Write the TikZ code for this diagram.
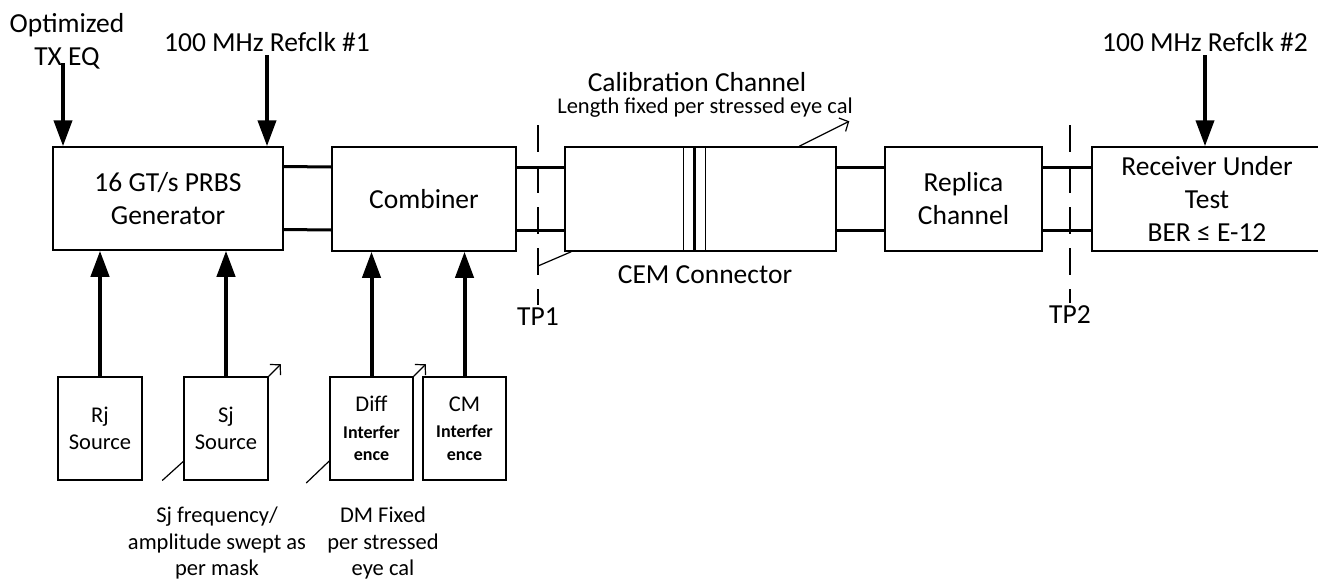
\documentclass[tikz,border=0pt]{standalone}
\usepackage{fontspec}
\setmainfont{Carlito}
\usetikzlibrary{arrows.meta,positioning}

\newcommand{\intf}{\bfseries\fontsize{18}{22}\selectfont}

\tikzset{
    blk/.style={draw, line width=1.5pt, inner sep=0pt, align=center},
    sig/.style={-{Triangle[length=26pt,width=18pt]}, line width=4pt},
    bus/.style={line width=3pt},
    tpline/.style={line width=1.5pt, dash pattern=on 27pt off 14pt},
    tune/.style={-{Straight Barb[length=7pt,width=15pt]}, line width=1.2pt},
    lead/.style={line width=1.2pt},
    big/.style={font=\fontsize{27.5}{33}\selectfont, align=center},
    small/.style={font=\fontsize{22.5}{26.5}\selectfont, align=center}
}

\begin{document}
\begin{tikzpicture}[x=1pt, y=-1pt]

        \useasboundingbox (0,0) rectangle (1318,581);

        % Main chain
        \node[blk, big, minimum width=230pt, minimum height=103pt] (gen) at (168,198.5) {16 GT/s PRBS\\Generator};
        \node[blk, big, minimum width=184pt, minimum height=104pt] (comb) at (424,199) {Combiner};
        \node[blk, minimum width=271pt, minimum height=104pt] (cal) at (700.5,199) {};
        \node[blk, big, minimum width=157pt, minimum height=104pt] (rep) at (963.5,199) {Replica\\Channel};
        \node[blk, big, minimum width=230pt, minimum height=104pt] (rx) at (1207,199) {Receiver Under\\Test\\BER ≤ E-12};

        % Sources
        \node[blk, small, minimum width=84pt, minimum height=103pt] (rj) at (100,428.5) {Rj\\Source};
        \node[blk, small, minimum width=84pt, minimum height=103pt] (sj) at (226,428.5) {Sj\\Source};
        \node[blk, small, minimum width=83pt, minimum height=103pt] (diff) at (371.5,428.5) {Diff\\{\intf Interfer}\\[-4pt]{\intf ence}};
        \node[blk, small, minimum width=83pt, minimum height=103pt] (cm) at (464.5,428.5) {CM\\{\intf Interfer}\\[-4pt]{\intf ence}};

        % Differential pairs
        \foreach \a/\b in {gen/comb, comb/cal, cal/rep, rep/rx} {
            \draw[bus] ([yshift=32pt]\a.east) -- ([yshift=32pt]\b.west);
            \draw[bus] ([yshift=-31pt]\a.east) -- ([yshift=-31pt]\b.west);
        }

        % CEM connector in calibration channel
        \foreach \dx in {119,141} {
            \draw[line width=1.2pt] ([xshift=\dx pt]cal.north west) -- ([xshift=\dx pt]cal.south west);
        }
        \draw[line width=3pt] ([xshift=130pt]cal.north west) -- ([xshift=130pt]cal.south west);

        % Inputs from below
        \foreach \s in {rj, sj} {
            \draw[sig] (\s.north) -- (\s.north |- gen.south);
        }
        \foreach \s in {diff, cm} {
            \draw[sig] (\s.north) -- (\s.north |- comb.south);
        }

        % Inputs from above
        \node[big] (txeq) at (67,41) {Optimized\\TX EQ};
        \coordinate (eqin) at (63,63);
        \draw[sig] (eqin) -- (eqin |- gen.north);

        \node[big] (clk1) at (267,42) {100 MHz Refclk \#1};
        \draw[sig] (clk1.south) -- (clk1.south |- gen.north);

        \node[big] (clk2) at (1205,42) {100 MHz Refclk \#2};
        \draw[sig] (clk2.south) -- (clk2.south |- rx.north);

        % Calibration channel labels
        \node[big] (caltitle) at (697,82) {Calibration Channel};
        \node[small] (callen) at (705,108) {Length fixed per stressed eye cal};
        \draw[tune] ([xshift=235pt]cal.north west) -- ++(50,-25);

        % Test points
        \node[big] (tp1) at (538,317) {TP1};
        \coordinate (tp1top) at (538,125);
        \draw[tpline] (tp1top) -- (tp1.north);

        \node[big] (tp2) at (1070,315) {TP2};
        \coordinate (tp2top) at (1070,125);
        \draw[tpline] (tp2top) -- (tp2.north);

        \node[big] (cem) at (705,275) {CEM Connector};
        \coordinate (cemtip) at (538,266);
        \draw[lead] (cemtip) -- ([xshift=7pt]cal.south west);

        % Adjustable sources
        \draw[tune] (sj.north east) -- ++(12,-12);
        \draw[tune] (diff.north east) -- ++(12,-12);
        \draw[lead] ([yshift=-33pt]sj.west) -- ++(-21,19);
        \draw[lead] ([yshift=-32.5pt]diff.west) -- ++(-23,22);

        \node[small] (sjnote) at (217,543) {Sj frequency/\\amplitude swept as\\per mask};
        \node[small] (dmnote) at (383,543) {DM Fixed\\per stressed\\eye cal};

\end{tikzpicture}
\end{document}
